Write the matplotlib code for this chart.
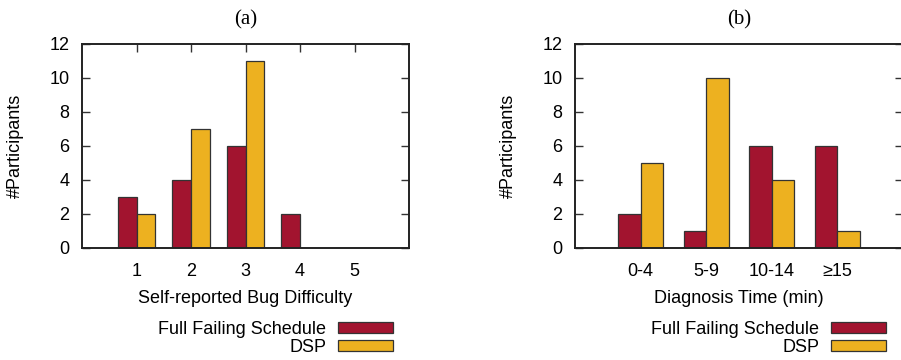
import numpy as np
import matplotlib
matplotlib.use("Agg")
import matplotlib.pyplot as plt

plt.rcParams['font.family'] = ['Liberation Sans', 'DejaVu Sans']

# (a) self-reported bug difficulty
difficulty = ["1", "2", "3", "4", "5"]
diff_full = [3, 4, 6, 2, 0]
diff_dsp = [2, 7, 11, 0, 0]

# (b) diagnosis time
time_bins = ["0-4", "5-9", "10-14", "≥15"]
time_full = [2, 1, 6, 6]
time_dsp = [5, 10, 4, 1]

RED = "#A2142F"
GOLD = "#EDB120"
EDGE = "#333333"
FS = 13
W, H = 901, 360

fig = plt.figure(figsize=(W / 100, H / 100), dpi=100)


def panel(left_px, width_px, labels, full, dsp, title, xlabel, top_ticks):
    ax = fig.add_axes([left_px / W, (H - 248) / H, width_px / W, 204 / H])
    x = np.arange(1, len(labels) + 1)
    width = 0.34
    ax.bar(x - width / 2, full, width, color=RED, edgecolor=EDGE,
           linewidth=0.9, label="Full Failing Schedule")
    ax.bar(x + width / 2, dsp, width, color=GOLD, edgecolor=EDGE,
           linewidth=0.9, label="DSP")
    ax.set_xlim(0, len(labels) + 1)
    ax.set_ylim(0, 12)
    ax.set_yticks(range(0, 13, 2))
    ax.set_xticks(x)
    ax.set_xticklabels(labels)
    ax.tick_params(axis="y", direction="in", length=6, width=1,
                   right=True, labelsize=FS, pad=9, color=EDGE)
    ax.tick_params(axis="x", direction="in", length=6 if top_ticks else 0,
                   width=1, top=top_ticks, bottom=False, labelsize=FS,
                   pad=11, color=EDGE)
    for s in ax.spines.values():
        s.set_linewidth(1.4)
        s.set_color("#222222")
    ax.set_ylabel("#Participants", fontsize=FS)
    ax.yaxis.set_label_coords(-0.178, 0.5)
    ax.set_xlabel(xlabel, fontsize=FS, labelpad=7)
    ax.set_title(title, fontsize=15, family="Liberation Serif", pad=14)
    # legend sits under the x label, text left of the swatch
    right = (left_px + 311) / W
    ax.legend(loc="upper right", bbox_to_anchor=(right, 1 - 321 / H),
              bbox_transform=fig.transFigure, frameon=False,
              markerfirst=False, fontsize=FS, handlelength=3.05,
              handleheight=0.5, handletextpad=0.65, labelspacing=0.05,
              borderpad=0, borderaxespad=0)
    return ax


panel(82, 327, difficulty, diff_full, diff_dsp, "(a)",
      "Self-reported Bug Difficulty", True)
panel(575, 328, time_bins, time_full, time_dsp, "(b)",
      "Diagnosis Time (min)", False)

plt.savefig("out.png", dpi=100)
